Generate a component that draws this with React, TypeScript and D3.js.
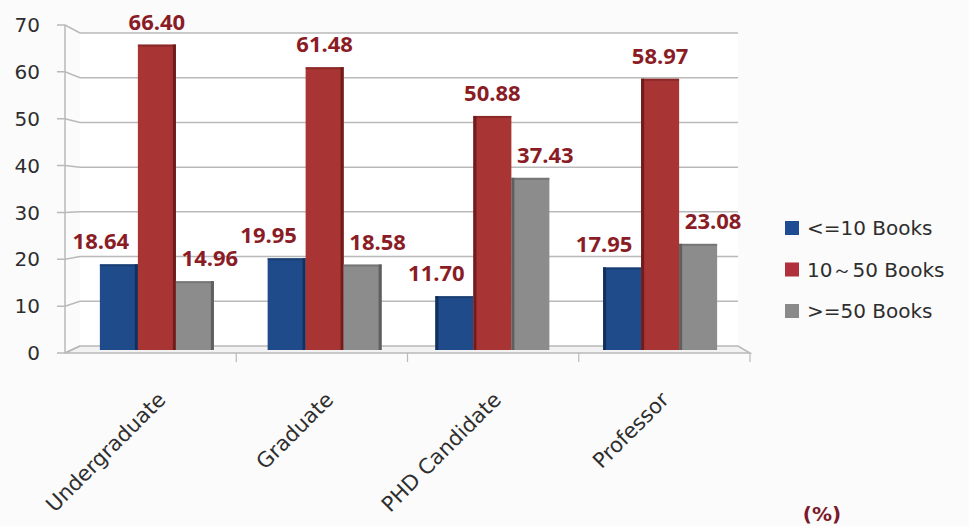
import React from "react";
import * as d3 from "d3";

const categories = ["Undergraduate", "Graduate", "PHD Candidate", "Professor"];
const seriesNames = ["<=10 Books", "10～50 Books", ">=50 Books"];
const lowValues = [18.64, 19.95, 11.7, 17.95];
const midValues = [66.4, 61.48, 50.88, 58.97];
const highValues = [14.96, 18.58, 37.43, 23.08];
const yTicks = [0, 10, 20, 30, 40, 50, 60, 70];
const unitLabel = "(%)";

const seriesValues = [lowValues, midValues, highValues];
const colors = ["#1f4b8b", "#a83434", "#8c8c8c"];
const sideColors = ["#12305c", "#6e1c1c", "#5f5f5f"];
const legendColors = ["#1f4b95", "#b0303c", "#8a8a8a"];
const labelDx = [-18, 0, 15];

const W = 969;
const H = 526;

export default function App() {
  const yFront = d3.scaleLinear().domain([0, 70]).range([353, 25]);
  const yBack = d3.scaleLinear().domain([0, 70]).range([346, 33]);
  const yBar = d3.scaleLinear().domain([0, 70]).range([350, 28]);
  const xFront = d3.scaleBand<string>().domain(categories).range([65, 750]);
  const xBar = d3.scaleBand<string>().domain(categories).range([73, 744]);
  const groupW = 114;
  const xSub = d3.scaleBand<string>().domain(seriesNames).range([0, groupW]);
  const backLeft = 80;
  const backRight = 738;
  const frontLeft = 65;
  const frontRight = 750;
  const centerX = (frontLeft + frontRight) / 2;

  const grid = "#b9b9b9";

  return (
    <svg
      width={W}
      height={H}
      viewBox={`0 0 ${W} ${H}`}
      style={{ position: "absolute", left: 0, top: 0, background: "#fbfbfb" }}
    >
      <rect x={0} y={0} width={W} height={H} fill="#fbfbfb" />
      <rect
        x={backLeft}
        y={yBack(70)}
        width={backRight - backLeft}
        height={yBack(0) - yBack(70)}
        fill="#ffffff"
      />
      <polygon
        points={`${frontLeft},${yFront(0)} ${backLeft},${yBack(0)} ${backRight},${yBack(0)} ${frontRight},${yFront(0)}`}
        fill="#f2f2f2"
        stroke={grid}
        strokeWidth={1.5}
      />
      {yTicks.map((t) => (
        <g key={t}>
          {t > 0 && (
            <line
              x1={backLeft}
              x2={backRight}
              y1={yBack(t)}
              y2={yBack(t)}
              stroke={grid}
              strokeWidth={1.5}
            />
          )}
          <polyline
            points={`${frontLeft - 8},${yFront(t)} ${frontLeft},${yFront(t)} ${backLeft},${yBack(t)}`}
            fill="none"
            stroke={grid}
            strokeWidth={1.5}
          />
          <text
            x={40}
            y={yFront(t)}
            dy="0.36em"
            textAnchor="end"
            fontFamily="DejaVu Sans"
            fontSize={20}
            fill="#2e2e2e"
          >
            {t}
          </text>
        </g>
      ))}
      <line
        x1={frontLeft}
        x2={frontLeft}
        y1={yFront(70)}
        y2={yFront(0)}
        stroke={grid}
        strokeWidth={1.5}
      />
      {categories.map((c) => (
        <line
          key={c}
          x1={(xFront(c) as number) + xFront.bandwidth()}
          x2={(xFront(c) as number) + xFront.bandwidth()}
          y1={yFront(0)}
          y2={yFront(0) + 9}
          stroke={grid}
          strokeWidth={1.2}
        />
      ))}
      {categories.map((c, ci) => {
        const gx = (xBar(c) as number) + (xBar.bandwidth() - groupW) / 2;
        const rightSide = gx + groupW / 2 < centerX;
        return (
          <g key={c}>
            {seriesNames.map((s, si) => {
              const v = seriesValues[si][ci];
              const x0 = gx + (xSub(s) as number);
              const bw = xSub.bandwidth();
              const top = yBar(v);
              const base = yBar(0);
              return (
                <g key={s}>
                  <rect x={x0} y={top} width={bw} height={base - top} fill={colors[si]} />
                  <rect
                    x={rightSide ? x0 + bw - 3 : x0}
                    y={top}
                    width={3}
                    height={base - top}
                    fill={sideColors[si]}
                  />
                  <rect x={x0} y={top} width={bw} height={2} fill={sideColors[si]} opacity={0.5} />
                </g>
              );
            })}
          </g>
        );
      })}
      {categories.map((c, ci) => {
        const gx = (xBar(c) as number) + (xBar.bandwidth() - groupW) / 2;
        return seriesNames.map((s, si) => {
          const v = seriesValues[si][ci];
          const cx = gx + (xSub(s) as number) + xSub.bandwidth() / 2 + labelDx[si];
          return (
            <text
              key={c + s}
              x={cx}
              y={yBar(v) - 15}
              textAnchor="middle"
              fontFamily="Open Sans"
              fontWeight="bold"
              fontSize={22}
              fill="#8a1c26"
            >
              {v.toFixed(2)}
            </text>
          );
        });
      })}
      {categories.map((c) => {
        const cx = (xBar(c) as number) + xBar.bandwidth() / 2 + 10;
        return (
          <text
            key={c}
            transform={`translate(${cx},401) rotate(-45)`}
            textAnchor="end"
            fontFamily="DejaVu Sans"
            fontSize={21}
            fill="#2e2e2e"
          >
            {c}
          </text>
        );
      })}
      {seriesNames.map((s, i) => (
        <g key={s} transform={`translate(785,${228 + i * 41.5})`}>
          <rect x={0} y={-7} width={14} height={14} fill={legendColors[i]} />
          <text
            x={22}
            y={0}
            dy="0.36em"
            fontFamily="DejaVu Sans"
            fontSize={20}
            fill="#2e2e2e"
          >
            {s}
          </text>
        </g>
      ))}
      <text
        x={822}
        y={521}
        textAnchor="middle"
        fontFamily="DejaVu Sans"
        fontWeight="bold"
        fontSize={20}
        fill="#7a1a2a"
      >
        {unitLabel}
      </text>
    </svg>
  );
}
